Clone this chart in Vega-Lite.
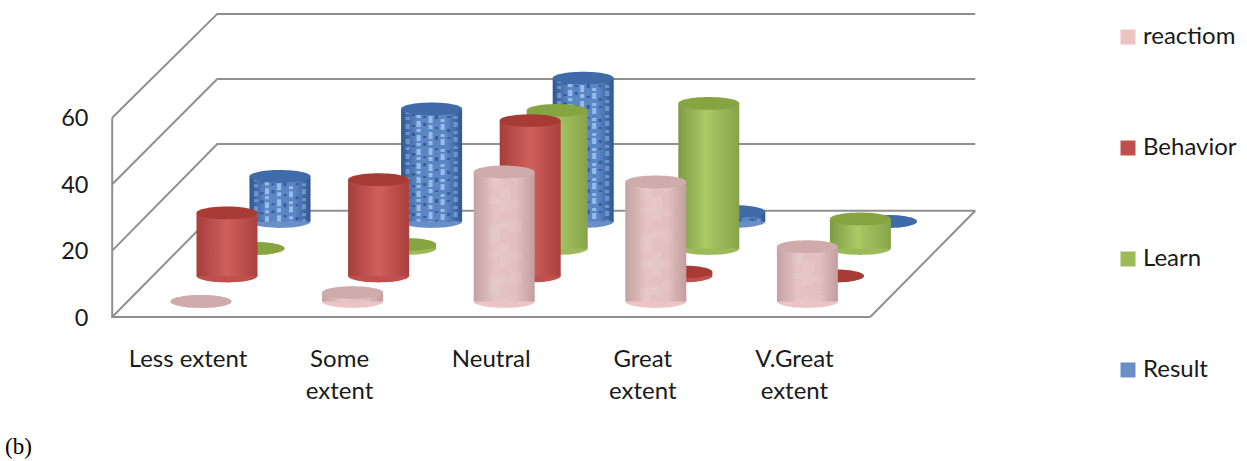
{
  "$schema": "https://vega.github.io/schema/vega-lite/v6.json",
  "width": 1247,
  "height": 461,
  "padding": 0,
  "autosize": "none",
  "background": "white",
  "title": {"text": "(b)", "orient": "bottom", "anchor": "start", "font": "Liberation Serif", "fontSize": 23, "fontWeight": "normal", "color": "#000000", "offset": -25, "dx": 5},
  "datasets": {
    "cells": [
      {"extent": "Less extent", "series": "reactiom", "value": 0},
      {"extent": "Some extent", "series": "reactiom", "value": 2.7},
      {"extent": "Neutral", "series": "reactiom", "value": 39},
      {"extent": "Great extent", "series": "reactiom", "value": 36},
      {"extent": "V.Great extent", "series": "reactiom", "value": 16.5},
      {"extent": "Less extent", "series": "Behavior", "value": 19},
      {"extent": "Some extent", "series": "Behavior", "value": 29},
      {"extent": "Neutral", "series": "Behavior", "value": 46.8},
      {"extent": "Great extent", "series": "Behavior", "value": 1.2},
      {"extent": "V.Great extent", "series": "Behavior", "value": 0},
      {"extent": "Less extent", "series": "Learn", "value": 0},
      {"extent": "Some extent", "series": "Learn", "value": 1.2},
      {"extent": "Neutral", "series": "Learn", "value": 41.6},
      {"extent": "Great extent", "series": "Learn", "value": 43.7},
      {"extent": "V.Great extent", "series": "Learn", "value": 8.9},
      {"extent": "Less extent", "series": "Result", "value": 13.6},
      {"extent": "Some extent", "series": "Result", "value": 33.9},
      {"extent": "Neutral", "series": "Result", "value": 43.2},
      {"extent": "Great extent", "series": "Result", "value": 3},
      {"extent": "V.Great extent", "series": "Result", "value": 0}
    ],
    "edges": [
      {"edge": "front wall", "slot": 0, "level": 60},
      {"edge": "front wall", "slot": 0, "level": 0},
      {"edge": "front wall", "slot": 5, "level": 0},
      {"edge": "floor right", "slot": 5, "level": 0},
      {"edge": "floor right", "slot": 5.693, "level": 32},
      {"edge": "floor back", "slot": 5.693, "level": 32},
      {"edge": "floor back", "slot": 0.693, "level": 32},
      {"edge": "floor back", "slot": 0, "level": 0},
      {"edge": "side 20", "slot": 0, "level": 20},
      {"edge": "side 20", "slot": 0.693, "level": 52.1},
      {"edge": "side 20", "slot": 5.693, "level": 52.1},
      {"edge": "side 40", "slot": 0, "level": 40},
      {"edge": "side 40", "slot": 0.693, "level": 71.7},
      {"edge": "side 40", "slot": 5.693, "level": 71.7},
      {"edge": "side 60", "slot": 0, "level": 60},
      {"edge": "side 60", "slot": 0.693, "level": 91.3},
      {"edge": "side 60", "slot": 5.693, "level": 91.3}
    ]
  },
  "layer": [
    {
      "data": {"name": "edges"},
      "mark": {"type": "line", "color": "#8f8f8f", "strokeWidth": 2},
      "encoding": {
        "x": {"field": "slot", "type": "quantitative", "axis": null, "scale": {"domain": [0, 6], "range": [112.2, 1021.8], "nice": false, "zero": false}},
        "y": {"field": "level", "type": "quantitative"},
        "detail": {"field": "edge"},
        "order": {"field": "row"}
      }
    },
    {
      "data": {"name": "cells"},
      "encoding": {
        "x": {
          "field": "extent", "type": "nominal", "sort": null,
          "scale": {"domain": ["Less extent", "Some extent", "Neutral", "Great extent", "V.Great extent"], "range": [112.2, 870.2], "paddingInner": 0, "paddingOuter": 0},
          "axis": {"title": null, "orient": "bottom", "offset": -114, "domain": false, "ticks": false, "labelAngle": 0, "labelPadding": 0, "labelBaseline": "top", "labelFont": "Lato", "labelFontSize": 24, "labelColor": "#1a1a1a", "labelLineHeight": 32, "labelLimit": 0, "labelExpr": "datum.value == 'Less extent' || datum.value == 'Neutral' ? datum.value : split(datum.value, ' ')"}
        },
        "y": {
          "field": "value", "type": "quantitative",
          "scale": {"domain": [-43.37, 95.48], "nice": false, "zero": false},
          "axis": {"title": null, "orient": "left", "offset": -113, "domain": false, "ticks": false, "grid": false, "values": [0, 20, 40, 60], "labelPadding": 25, "labelOffset": 1, "labelFont": "Lato", "labelFontSize": 23.5, "labelColor": "#1a1a1a"}
        }
      },
      "layer": [
        {
          "transform": [{"filter": "datum.series == 'Result'"}],
          "layer": [
            {"mark": {"type": "point", "style": "disc", "xOffset": 92, "yOffset": -95.5}, "encoding": {"y": {"datum": 0}, "color": {"field": "series", "type": "nominal", "scale": {"domain": ["reactiom", "Behavior", "Learn", "Result"], "range": ["#ecc4c4", "#c0504d", "#9bbb59", "#6a8fc8"]}}}},
            {"mark": {"type": "bar", "width": 61, "xOffset": 92, "yOffset": -95.5, "y2Offset": -95.5, "fill": {"x1": 0, "x2": 1, "y1": 0, "y2": 0, "gradient": "linear", "stops": [{"offset": 0, "color": "#2f5690"}, {"offset": 0.25, "color": "#5a86c4"}, {"offset": 0.75, "color": "#5a86c4"}, {"offset": 1, "color": "#2f5690"}]}}, "encoding": {"y2": {"datum": 0}}},
            {"mark": {"type": "rule", "style": "weaveLight", "xOffset": 68, "yOffset": -95.5, "y2Offset": -95.5, "opacity": 0.45, "strokeDash": [5, 3, 3, 4]}, "encoding": {"y2": {"datum": 0}}},
            {"mark": {"type": "rule", "style": "weaveDark", "xOffset": 74, "yOffset": -99.5, "y2Offset": -95.5, "strokeDash": [2, 6, 3, 9]}, "encoding": {"y2": {"datum": 0}}},
            {"mark": {"type": "rule", "style": "weaveLight", "xOffset": 79, "yOffset": -97.5, "y2Offset": -95.5, "strokeDash": [6, 2, 3, 3]}, "encoding": {"y2": {"datum": 0}}},
            {"mark": {"type": "rule", "style": "weaveDark", "xOffset": 85, "yOffset": -101.5, "y2Offset": -95.5, "strokeDash": [3, 10, 2, 5]}, "encoding": {"y2": {"datum": 0}}},
            {"mark": {"type": "rule", "style": "weaveLight", "xOffset": 91, "yOffset": -95.5, "y2Offset": -95.5, "strokeDash": [4, 3, 7, 2]}, "encoding": {"y2": {"datum": 0}}},
            {"mark": {"type": "rule", "style": "weaveDark", "xOffset": 97, "yOffset": -98.5, "y2Offset": -95.5, "strokeDash": [2, 7, 4, 8]}, "encoding": {"y2": {"datum": 0}}},
            {"mark": {"type": "rule", "style": "weaveLight", "xOffset": 103, "yOffset": -100.5, "y2Offset": -95.5, "strokeDash": [3, 2, 6, 4]}, "encoding": {"y2": {"datum": 0}}},
            {"mark": {"type": "rule", "style": "weaveDark", "xOffset": 109, "yOffset": -96.5, "y2Offset": -95.5, "strokeDash": [3, 5, 2, 11]}, "encoding": {"y2": {"datum": 0}}},
            {"mark": {"type": "rule", "style": "weaveLight", "xOffset": 116, "yOffset": -97.5, "y2Offset": -95.5, "opacity": 0.45, "strokeDash": [5, 4, 3, 3]}, "encoding": {"y2": {"datum": 0}}},
            {"mark": {"type": "point", "style": "disc", "xOffset": 92, "yOffset": -95.5, "fill": "#3f6ca8"}}
          ]
        },
        {
          "transform": [{"filter": "datum.series == 'Learn'"}],
          "layer": [
            {"mark": {"type": "point", "style": "disc", "xOffset": 66, "yOffset": -68.5}, "encoding": {"y": {"datum": 0}, "color": {"field": "series", "type": "nominal", "scale": {"domain": ["reactiom", "Behavior", "Learn", "Result"], "range": ["#ecc4c4", "#c0504d", "#9bbb59", "#6a8fc8"]}}}},
            {"mark": {"type": "bar", "width": 61, "xOffset": 66, "yOffset": -68.5, "y2Offset": -68.5, "fill": {"x1": 0, "x2": 1, "y1": 0, "y2": 0, "gradient": "linear", "stops": [{"offset": 0, "color": "#7e9c44"}, {"offset": 0.45, "color": "#abc966"}, {"offset": 1, "color": "#86a34a"}]}}, "encoding": {"y2": {"datum": 0}}},
            {"mark": {"type": "point", "style": "disc", "xOffset": 66, "yOffset": -68.5, "fill": "#86a542"}}
          ]
        },
        {
          "transform": [{"filter": "datum.series == 'Behavior'"}],
          "layer": [
            {"mark": {"type": "point", "style": "disc", "xOffset": 39, "yOffset": -41}, "encoding": {"y": {"datum": 0}, "color": {"field": "series", "type": "nominal", "scale": {"domain": ["reactiom", "Behavior", "Learn", "Result"], "range": ["#ecc4c4", "#c0504d", "#9bbb59", "#6a8fc8"]}}}},
            {"mark": {"type": "bar", "width": 61, "xOffset": 39, "yOffset": -41, "y2Offset": -41, "fill": {"x1": 0, "x2": 1, "y1": 0, "y2": 0, "gradient": "linear", "stops": [{"offset": 0, "color": "#a63e3a"}, {"offset": 0.5, "color": "#d0605c"}, {"offset": 1, "color": "#ab403c"}]}}, "encoding": {"y2": {"datum": 0}}},
            {"mark": {"type": "point", "style": "disc", "xOffset": 39, "yOffset": -41, "fill": "#a93b37"}}
          ]
        },
        {
          "transform": [{"filter": "datum.series == 'reactiom'"}],
          "layer": [
            {"mark": {"type": "point", "style": "disc", "xOffset": 13, "yOffset": -15.5}, "encoding": {"y": {"datum": 0}, "color": {"field": "series", "type": "nominal", "scale": {"domain": ["reactiom", "Behavior", "Learn", "Result"], "range": ["#ecc4c4", "#c0504d", "#9bbb59", "#6a8fc8"]}}}},
            {"mark": {"type": "bar", "width": 61, "xOffset": 13, "yOffset": -15.5, "y2Offset": -15.5, "fill": {"x1": 0, "x2": 1, "y1": 0, "y2": 0, "gradient": "linear", "stops": [{"offset": 0, "color": "#c4a2a2"}, {"offset": 0.35, "color": "#e6c4c4"}, {"offset": 0.7, "color": "#e2bebe"}, {"offset": 1, "color": "#c29e9e"}]}}, "encoding": {"y2": {"datum": 0}}},
            {"mark": {"type": "rule", "style": "mottle", "xOffset": 3, "yOffset": -15.5, "y2Offset": -15.5, "strokeDash": [17, 9, 6, 21]}, "encoding": {"y2": {"datum": 0}}},
            {"mark": {"type": "rule", "style": "mottle", "xOffset": 14, "yOffset": -22.5, "y2Offset": -15.5, "strokeDash": [8, 14, 23, 11]}, "encoding": {"y2": {"datum": 0}}},
            {"mark": {"type": "rule", "style": "mottle", "xOffset": 25, "yOffset": -18.5, "y2Offset": -15.5, "strokeDash": [12, 19, 7, 13]}, "encoding": {"y2": {"datum": 0}}},
            {"mark": {"type": "point", "style": "disc", "xOffset": 13, "yOffset": -15.5, "fill": "#cfabab"}}
          ]
        }
      ]
    }
  ],
  "resolve": {"scale": {"x": "independent"}},
  "config": {
    "view": {"stroke": null},
    "style": {
      "disc": {"filled": true, "shape": "M-1,0A1,0.21,0,1,1,1,0A1,0.21,0,1,1,-1,0Z", "size": 3721, "opacity": 1, "strokeWidth": 0},
      "weaveLight": {"color": "#a9c8f3", "strokeWidth": 4, "opacity": 0.8},
      "weaveDark": {"color": "#2c5490", "strokeWidth": 3, "opacity": 0.8},
      "mottle": {"color": "#ffffff", "strokeWidth": 11, "opacity": 0.07}
    },
    "legend": {
      "orient": "none", "legendX": 1116, "legendY": 25, "title": null, "symbolType": "square", "symbolSize": 225, "symbolStrokeWidth": 0,
      "labelFont": "Lato", "labelFontSize": 24, "labelColor": "#1a1a1a", "labelOffset": 3, "rowPadding": 87, "labelLimit": 0
    },
    "axis": {"labelOverlap": false}
  }
}
